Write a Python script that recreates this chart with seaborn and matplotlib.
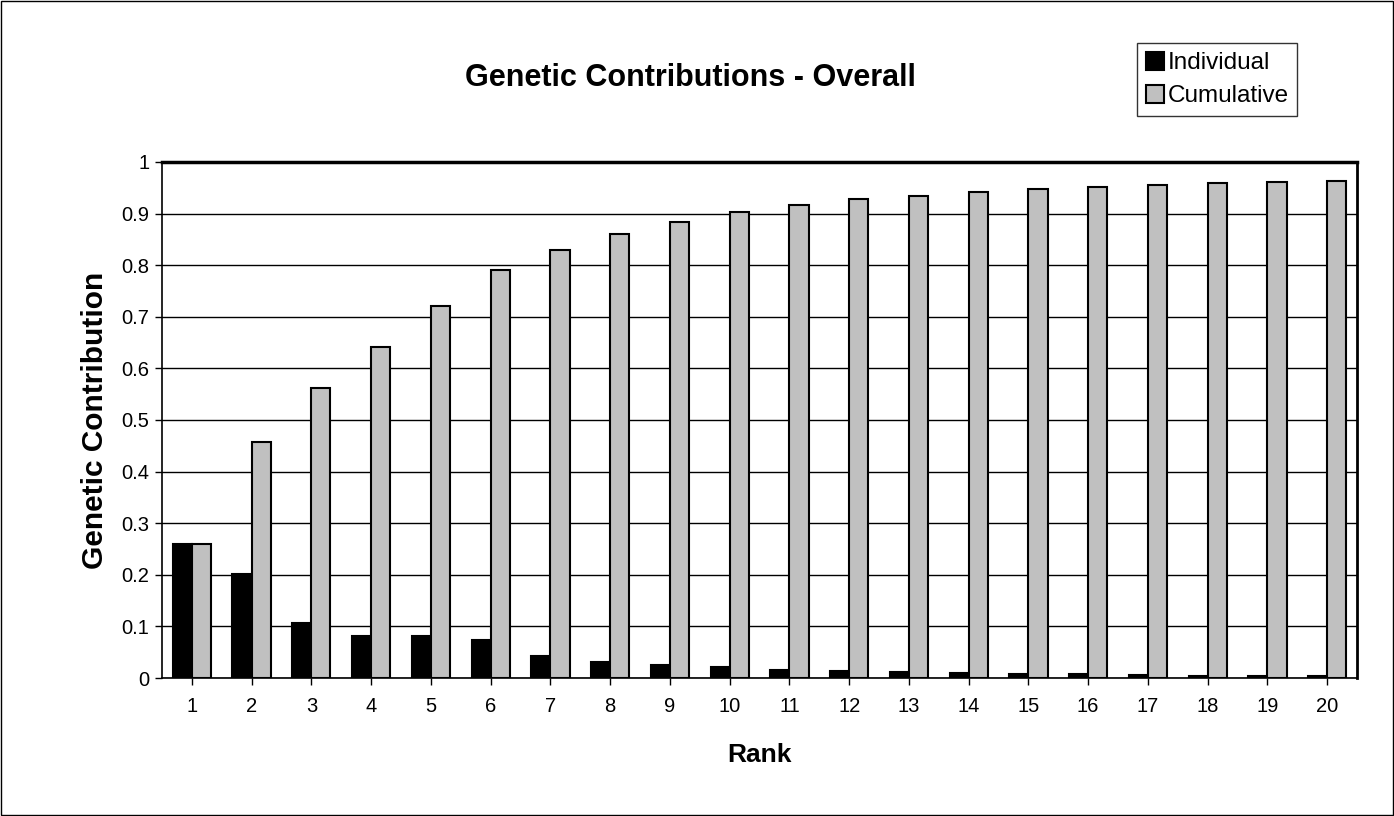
import seaborn as sns
import pandas as pd
import matplotlib.pyplot as plt

rank = list(range(1, 21))
individual = [0.26, 0.201, 0.107, 0.082, 0.081, 0.074, 0.043, 0.032, 0.026, 0.022,
              0.016, 0.013, 0.011, 0.009, 0.008, 0.007, 0.005, 0.004, 0.004, 0.003]
cumulative = [0.26, 0.457, 0.562, 0.641, 0.72, 0.79, 0.83, 0.86, 0.884, 0.904,
              0.917, 0.928, 0.935, 0.942, 0.947, 0.952, 0.956, 0.959, 0.961, 0.963]

df = pd.DataFrame({"Rank": rank * 2,
                   "value": individual + cumulative,
                   "series": ["Individual"] * 20 + ["Cumulative"] * 20})

sns.set_style("white")
plt.rcParams["font.family"] = ["Liberation Sans", "DejaVu Sans"]
plt.rcParams["text.color"] = "black"
plt.rcParams["axes.labelcolor"] = "black"
plt.rcParams["xtick.color"] = "black"
plt.rcParams["ytick.color"] = "black"

fig = plt.figure(figsize=(13.94, 8.16), dpi=100)
ax = fig.add_axes([0.1162, 0.1691, 0.8573, 0.6324])

sns.barplot(data=df, x="Rank", y="value", hue="series",
            palette=["black", "#c0c0c0"], width=0.64, gap=0,
            edgecolor="black", linewidth=1.5, ax=ax, zorder=3)

ax.set_ylim(0, 1)
ax.set_yticks([i / 10 for i in range(11)])
ax.set_yticklabels(["0", "0.1", "0.2", "0.3", "0.4", "0.5", "0.6", "0.7", "0.8", "0.9", "1"])
ax.set_xlim(-0.5, 19.5)
ax.yaxis.grid(True, color="black", linewidth=1)
ax.set_axisbelow(True)
for s in ax.spines.values():
    s.set_color("black")
    s.set_linewidth(1.2)
ax.spines["top"].set_linewidth(2.5)
ax.spines["right"].set_linewidth(2)
ax.tick_params(axis="both", direction="out", length=5, width=1, color="black",
               labelsize=14.5, left=True, bottom=True)
ax.tick_params(axis="x", pad=9)
ax.tick_params(axis="y", pad=4)
ax.set_xlabel("Rank", fontsize=19, fontweight="bold", labelpad=19)
ax.set_ylabel("Genetic Contribution", fontsize=21.5, fontweight="bold", labelpad=9)

fig.text(0.495, 0.905, "Genetic Contributions - Overall", fontsize=22,
         fontweight="bold", ha="center", va="center")

handles, labels = ax.get_legend_handles_labels()
ax.get_legend().remove()
leg = fig.legend(handles, labels, loc="upper left", bbox_to_anchor=(0.8157, 0.947),
                 fontsize=17.5, frameon=True, fancybox=False, handlelength=0.75,
                 handleheight=0.75, handletextpad=0.15, borderpad=0.35,
                 labelspacing=0.45, borderaxespad=0)
leg.get_frame().set_edgecolor("black")
leg.get_frame().set_linewidth(1)

fig.patches.append(plt.Rectangle((0.001, 0.001), 0.998, 0.998, transform=fig.transFigure,
                                 fill=False, edgecolor="black", linewidth=1))

fig.savefig("out.png", dpi=100, facecolor="white")
